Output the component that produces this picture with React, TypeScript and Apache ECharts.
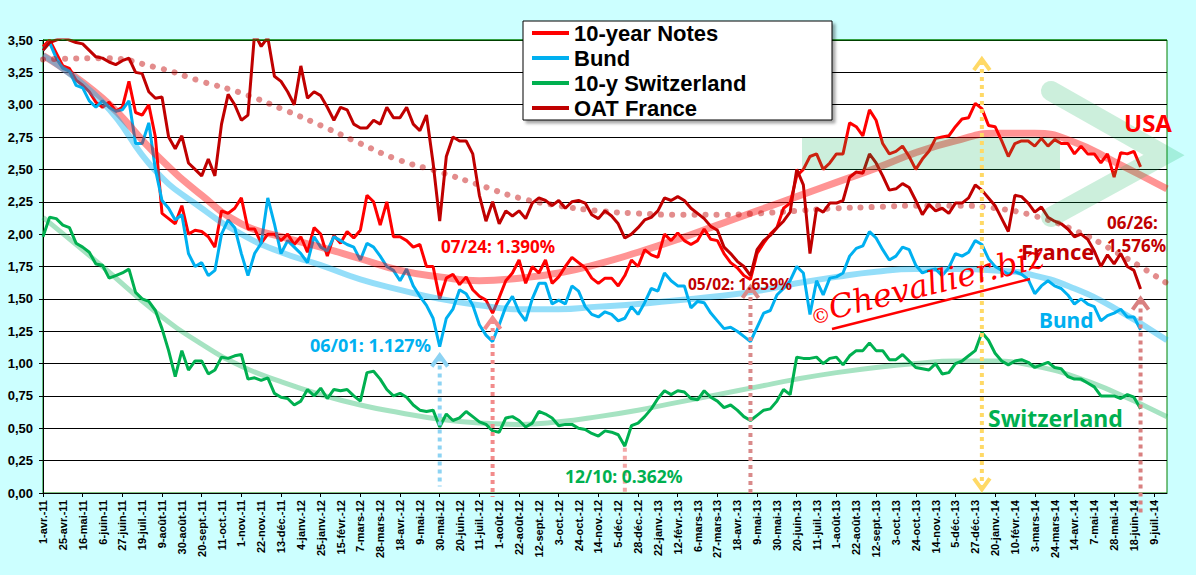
import { useEffect, useRef } from 'react'
import * as echarts from 'echarts'

// x-axis tick labels, one every 15 business days (3 weekly points)
const dateLabels = [
  '1-avr.-11', '25-avr.-11', '16-mai-11', '6-juin-11', '27-juin-11', '19-juil.-11', '9-août-11',
  '30-août-11', '20-sept.-11', '11-oct.-11', '1-nov.-11', '22-nov.-11', '13-déc.-11', '4-janv.-12',
  '25-janv.-12', '15-févr.-12', '7-mars-12', '28-mars-12', '18-avr.-12', '9-mai-12', '30-mai-12',
  '20-juin-12', '11-juil.-12', '1-août-12', '22-août-12', '12-sept.-12', '3-oct.-12', '24-oct.-12',
  '14-nov.-12', '5-déc.-12', '28-déc.-12', '22-janv.-13', '12-févr.-13', '6-mars-13', '27-mars-13',
  '18-avr.-13', '9-mai-13', '30-mai-13', '20-juin-13', '11-juil.-13', '1-août-13', '22-août-13',
  '12-sept.-13', '3-oct.-13', '24-oct.-13', '14-nov.-13', '5-déc.-13', '27-déc.-13', '20-janv.-14',
  '10-févr.-14', '3-mars-14', '24-mars-14', '14-avr.-14', '7-mai-14', '28-mai-14', '18-juin-14',
  '9-juil.-14',
]

// weekly yields (%)
const usNotes = [
  3.45, 3.5, 3.4, 3.3, 3.28, 3.19, 3.15, 3.1, 3.02, 2.98,
  3.02, 2.95, 2.98, 3.18, 2.94, 2.92, 3.0, 2.75, 2.16, 2.12,
  2.08, 2.22, 2.0, 2.03, 2.02, 1.98, 1.9, 2.18, 2.16, 2.2,
  2.28, 2.04, 2.04, 1.93, 2.0, 2.0, 1.95, 2.0, 1.92, 1.98,
  1.86, 2.05, 2.0, 1.83, 1.99, 1.93, 2.02, 1.97, 2.03, 2.3,
  2.25, 2.07, 2.25, 1.98, 1.98, 1.95, 1.9, 1.92, 1.75, 1.75,
  1.5, 1.66, 1.69, 1.61, 1.67, 1.57, 1.52, 1.49, 1.39, 1.51,
  1.64, 1.7, 1.8, 1.62, 1.75, 1.7, 1.8, 1.62, 1.67, 1.75,
  1.82, 1.78, 1.74, 1.66, 1.62, 1.66, 1.66, 1.6, 1.68, 1.8,
  1.75, 1.88, 1.84, 1.82, 2.0, 1.95, 2.01, 1.95, 1.92, 1.95,
  2.04, 1.96, 1.95, 1.85, 1.78, 1.74, 1.68, 1.65, 1.85, 1.93,
  2.0, 2.05, 2.2, 2.24, 2.45, 2.5, 2.6, 2.62, 2.5, 2.55,
  2.62, 2.62, 2.86, 2.83, 2.76, 2.96, 2.88, 2.7, 2.62, 2.64,
  2.68, 2.6, 2.5, 2.58, 2.64, 2.74, 2.75, 2.76, 2.83, 2.89,
  2.9, 3.01, 2.97, 2.84, 2.83, 2.72, 2.6, 2.7, 2.72, 2.72,
  2.68, 2.74, 2.68, 2.73, 2.7, 2.7, 2.62, 2.68, 2.62, 2.62,
  2.55, 2.62, 2.44, 2.63, 2.62, 2.64, 2.52,
]
const bund = [
  3.42, 3.48, 3.36, 3.28, 3.26, 3.15, 3.13, 3.03, 2.98, 3.03,
  2.98, 2.95, 2.96, 3.03, 2.7, 2.7, 2.86, 2.5, 2.26, 2.2,
  2.11, 2.15, 1.85, 1.75, 1.78, 1.68, 1.72, 2.0, 2.11, 2.05,
  1.85, 1.68, 1.85, 1.93, 2.28, 2.08, 1.85, 1.95, 1.9, 1.85,
  1.78, 1.98, 1.9, 1.87, 1.98, 1.95, 1.92, 1.9, 1.8, 1.93,
  1.9, 1.83, 1.75, 1.72, 1.64, 1.73, 1.6, 1.52, 1.45, 1.35,
  1.13, 1.35, 1.42, 1.57, 1.54, 1.45, 1.3, 1.22, 1.17, 1.3,
  1.44, 1.52, 1.4, 1.33, 1.5, 1.62, 1.62, 1.46, 1.49, 1.46,
  1.6, 1.56, 1.44, 1.38, 1.36, 1.4, 1.38, 1.33, 1.35, 1.44,
  1.38, 1.47, 1.58, 1.56, 1.7, 1.64, 1.6, 1.6, 1.43, 1.48,
  1.47, 1.39, 1.33, 1.27, 1.28, 1.25, 1.21, 1.17, 1.28, 1.39,
  1.41, 1.53, 1.58, 1.64, 1.75, 1.7, 1.38, 1.64, 1.53, 1.66,
  1.67, 1.7, 1.83, 1.89, 1.91, 2.02, 1.97, 1.88, 1.8, 1.83,
  1.9, 1.88, 1.76, 1.7, 1.72, 1.73, 1.68, 1.74, 1.85, 1.83,
  1.86, 1.95, 1.92, 1.81, 1.75, 1.72, 1.69, 1.71, 1.69, 1.65,
  1.54, 1.6, 1.64, 1.6, 1.58, 1.53, 1.46, 1.5, 1.46, 1.44,
  1.33, 1.37, 1.39, 1.42, 1.36, 1.36, 1.26,
]
const switzerland = [
  1.98, 2.13, 2.12, 2.07, 2.05, 1.93, 1.9, 1.86, 1.77, 1.76,
  1.66, 1.68, 1.7, 1.73, 1.55, 1.5, 1.48, 1.41, 1.27, 1.1,
  0.9, 1.1, 0.95, 1.02, 1.02, 0.92, 0.95, 1.05, 1.04, 1.06,
  1.07, 0.88, 0.89, 0.87, 0.89, 0.77, 0.74, 0.73, 0.68, 0.71,
  0.8, 0.75, 0.81, 0.73, 0.8, 0.79, 0.8, 0.75, 0.71, 0.93,
  0.94, 0.88, 0.8, 0.75, 0.77, 0.74, 0.68, 0.64, 0.63, 0.64,
  0.51, 0.61, 0.56, 0.58, 0.63, 0.59, 0.55, 0.53, 0.48, 0.47,
  0.58, 0.59, 0.56, 0.51, 0.54, 0.63, 0.61, 0.58, 0.52, 0.53,
  0.53, 0.5, 0.49, 0.46, 0.44, 0.48, 0.47, 0.45, 0.362, 0.52,
  0.54, 0.59, 0.65, 0.73, 0.79, 0.76, 0.79, 0.78, 0.73, 0.72,
  0.79, 0.74, 0.71, 0.66, 0.68, 0.64, 0.59, 0.56, 0.6, 0.64,
  0.65, 0.71, 0.8, 0.76, 1.05, 1.04, 1.04, 1.05, 1.0, 1.04,
  1.05, 0.99, 1.06, 1.1, 1.1, 1.16, 1.1, 1.1, 1.03, 1.03,
  1.07, 1.02, 0.97, 0.96, 0.95, 1.0, 0.92, 0.93, 1.0, 1.02,
  1.06, 1.1, 1.24, 1.18, 1.08, 1.02, 0.99, 1.02, 1.03, 1.01,
  0.97, 0.99, 1.01, 0.97, 0.96, 0.9, 0.88, 0.88, 0.85, 0.82,
  0.75, 0.75, 0.75, 0.73, 0.76, 0.74, 0.65,
]
const oatFrance = [
  3.42, 3.48, 3.5, 3.52, 3.5, 3.48, 3.47, 3.42, 3.37, 3.36,
  3.33, 3.31, 3.34, 3.36, 3.25, 3.24, 3.1, 3.05, 3.06, 2.75,
  2.66, 2.76, 2.55, 2.5, 2.45, 2.58, 2.45, 2.85, 3.08, 3.0,
  2.88, 2.92, 3.55, 3.45, 3.52, 3.22, 3.18, 3.1, 3.0, 3.3,
  3.05, 3.1, 3.07, 2.98, 2.88, 2.98, 2.96, 2.85, 2.82, 2.82,
  2.88, 2.85, 2.98, 2.9, 2.9, 2.98, 2.85, 2.8, 2.92, 2.55,
  2.1, 2.6, 2.75, 2.72, 2.72, 2.62, 2.3, 2.1, 2.25, 2.08,
  2.18, 2.14, 2.18, 2.12, 2.24, 2.28, 2.26, 2.22, 2.26, 2.2,
  2.25, 2.26, 2.24, 2.15, 2.12, 2.18, 2.14, 2.08, 1.97, 2.0,
  2.05, 2.11, 2.13, 2.18, 2.28, 2.26, 2.29, 2.26, 2.2, 2.16,
  2.12, 2.06, 2.03, 1.9, 1.85, 1.79, 1.75, 1.68, 1.88, 1.95,
  1.99, 2.05, 2.1, 2.17, 2.5, 2.38, 1.85, 2.2, 2.17, 2.24,
  2.24, 2.26, 2.44, 2.48, 2.47, 2.62, 2.55, 2.45, 2.34, 2.35,
  2.39, 2.36, 2.26, 2.15, 2.23, 2.18, 2.2, 2.16, 2.24, 2.24,
  2.28, 2.38, 2.34, 2.28, 2.22, 2.12, 2.02, 2.3, 2.29, 2.24,
  2.17, 2.21, 2.13, 2.1, 2.08, 2.04, 1.98, 2.0, 1.96, 1.87,
  1.75, 1.84, 1.77, 1.85, 1.75, 1.72, 1.576,
]

// trend curves, sampled at these week indexes
const trendWeeks = [0, 9, 17, 24, 30, 36, 42, 48, 54, 60, 66, 72, 78, 84, 90, 96, 102, 108, 114, 120, 126, 132, 138, 144, 150, 156, 162, 170]
const usTrend = [3.38, 3.05, 2.62, 2.3, 2.08, 1.98, 1.9, 1.81, 1.72, 1.67, 1.64, 1.66, 1.7, 1.77, 1.86, 1.96, 2.07, 2.18, 2.29, 2.4, 2.51, 2.63, 2.72, 2.78, 2.78, 2.71, 2.56, 2.35]
const bundTrend = [3.38, 3.02, 2.49, 2.2, 2.0, 1.86, 1.76, 1.65, 1.57, 1.5, 1.45, 1.42, 1.42, 1.44, 1.46, 1.49, 1.52, 1.56, 1.62, 1.67, 1.71, 1.73, 1.73, 1.72, 1.68, 1.58, 1.43, 1.18]
const swissTrend = [2.13, 1.75, 1.4, 1.15, 0.98, 0.86, 0.76, 0.68, 0.62, 0.57, 0.54, 0.53, 0.55, 0.59, 0.64, 0.7, 0.76, 0.82, 0.88, 0.93, 0.97, 1.0, 1.02, 1.02, 0.98, 0.9, 0.78, 0.59]
const oatTrend = [3.35, 3.36, 3.29, 3.18, 3.09, 2.97, 2.84, 2.7, 2.57, 2.48, 2.38, 2.28, 2.22, 2.18, 2.16, 2.15, 2.15, 2.16, 2.18, 2.2, 2.21, 2.22, 2.22, 2.2, 2.14, 2.03, 1.87, 1.62]

// dotted arrows: week index, top and bottom value
const arrows = [
  { week: 60, top: 1.07, bottom: 0.05, color: '#8DD3F3', up: true, down: false },
  { week: 68, top: 1.36, bottom: -0.03, color: '#F28B8B', up: true, down: false },
  { week: 88, top: 0.35, bottom: 0, color: '#F4A6A6', up: false, down: false },
  { week: 107, top: 1.6, bottom: 0, color: '#D98A8A', up: true, down: false },
  { week: 142, top: 3.36, bottom: 0.02, color: '#FFD966', up: true, down: true },
  { week: 166, top: 1.51, bottom: -0.16, color: '#D98080', up: true, down: false },
]

const categories: string[] = []
dateLabels.forEach((l) => categories.push(l, '', ''))

const pairs = (vals: number[]) => vals.map((v, i) => [trendWeeks[i], v])

const annFont = '"Noto Sans", "DejaVu Sans", sans-serif'

export default function App() {
  const chartRef = useRef<HTMLDivElement>(null)

  useEffect(() => {
    if (!chartRef.current) return
    const chart = echarts.init(chartRef.current, null, { renderer: 'svg' })

    const line = (name: string, data: number[], color: string) => ({
      name,
      type: 'line',
      data,
      color,
      symbol: 'none',
      lineStyle: { color, width: 3 },
      z: 3,
    })
    const trend = (name: string, vals: number[], lineStyle: any) => ({
      name,
      type: 'line',
      data: pairs(vals),
      smooth: 0.5,
      symbol: 'none',
      lineStyle,
      z: 4,
    })

    chart.setOption({
      animation: false,
      backgroundColor: '#CCFFFF',
      textStyle: { fontFamily: '"Liberation Sans", Arial, sans-serif' },
      grid: {
        left: 43,
        right: 29,
        top: 40,
        bottom: 82,
        show: true,
        backgroundColor: '#ffffff',
        borderColor: '#008000',
        borderWidth: 1,
      },
      legend: {
        data: ['10-year Notes', 'Bund', '10-y Switzerland', 'OAT France'],
        orient: 'vertical',
        left: 532,
        top: 22,
        padding: 0,
        itemGap: 3,
        itemWidth: 37,
        itemHeight: 4,
        icon: 'rect',
        z: 70,
        textStyle: {
          fontSize: 22,
          lineHeight: 22,
          fontWeight: 'bold',
          color: '#000',
          fontFamily: '"Liberation Sans", Arial, sans-serif',
        },
      },
      xAxis: {
        type: 'category',
        data: categories,
        boundaryGap: false,
        axisLine: { lineStyle: { color: '#000', width: 1 } },
        axisTick: {
          show: true,
          interval: (i: number) => i % 6 === 0,
          length: 4,
          lineStyle: { color: '#000' },
        },
        axisLabel: {
          interval: (i: number) => i % 3 === 0,
          rotate: 90,
          margin: 7,
          fontSize: 11,
          fontWeight: 'bold',
          color: '#000',
        },
        splitLine: { show: false },
      },
      yAxis: {
        type: 'value',
        min: 0,
        max: 3.5,
        interval: 0.25,
        axisLine: { show: true, lineStyle: { color: '#000', width: 1 } },
        axisTick: { show: true, length: 4, lineStyle: { color: '#000' } },
        axisLabel: {
          margin: 10,
          fontSize: 13,
          fontWeight: 'bold',
          color: '#000',
          formatter: (v: number) => v.toFixed(2).replace('.', ','),
        },
        splitLine: { lineStyle: { color: '#000', width: 1 } },
      },
      series: [
        line('10-year Notes', usNotes, '#FF0000'),
        line('Bund', bund, '#00B0F0'),
        line('10-y Switzerland', switzerland, '#00B050'),
        line('OAT France', oatFrance, '#C00000'),
        trend('usTrend', usTrend, { color: 'rgba(255,0,0,0.42)', width: 7 }),
        trend('bundTrend', bundTrend, { color: 'rgba(0,176,240,0.42)', width: 6 }),
        trend('swissTrend', swissTrend, { color: 'rgba(0,176,80,0.35)', width: 5 }),
        trend('oatTrend', oatTrend, {
          color: 'rgba(192,0,0,0.45)',
          width: 6,
          type: [0.1, 11],
          cap: 'round',
        }),
      ],
    })

    const toPx = (w: number, v: number) =>
      chart.convertToPixel({ gridIndex: 0 }, [w, v]) as number[]

    const elements: any[] = []

    // green top border over the 3,50 gridline
    const [gx0, gTop] = toPx(0, 3.5)
    const [gx1] = toPx(170, 3.5)
    elements.push({
      type: 'line',
      shape: { x1: gx0, y1: gTop, x2: gx1, y2: gTop },
      style: { stroke: '#008000', lineWidth: 1 },
      z: 5,
    })

    arrows.forEach((a) => {
      const [x, yTop] = toPx(a.week, a.top)
      const [, yBot] = toPx(a.week, a.bottom)
      elements.push({
        type: 'line',
        shape: { x1: x, y1: yTop + (a.up ? 3 : 0), x2: x, y2: yBot - (a.down ? 3 : 0) },
        style: { stroke: a.color, lineWidth: 4, lineDash: [4, 4] },
        z: 50,
      })
      if (a.up) {
        elements.push({
          type: 'polyline',
          shape: { points: [[x - 8, yTop + 12], [x, yTop + 1], [x + 8, yTop + 12]] },
          style: { stroke: a.color, lineWidth: 4, fill: 'none' },
          z: 50,
        })
      }
      if (a.down) {
        elements.push({
          type: 'polyline',
          shape: { points: [[x - 8, yBot - 12], [x, yBot - 1], [x + 8, yBot - 12]] },
          style: { stroke: a.color, lineWidth: 4, fill: 'none' },
          z: 50,
        })
      }
    })

    const label = (text: string, x: number, y: number, fill: string, size: number) => ({
      type: 'text',
      x,
      y,
      z: 55,
      style: {
        text,
        fill,
        fontSize: size,
        fontWeight: 'bold',
        fontFamily: annFont,
        textAlign: 'left',
        textVerticalAlign: 'middle',
        align: 'left',
        verticalAlign: 'middle',
      },
    })

    elements.push(
      // green "USA" arrow
      {
        type: 'rect',
        shape: { x: 802, y: 138, width: 258, height: 32 },
        style: { fill: 'rgba(0,176,80,0.2)' },
        z: 45,
      },
      {
        type: 'polyline',
        shape: { points: [[1051, 91], [1164, 155], [1051, 217]] },
        style: {
          stroke: 'rgba(0,176,80,0.2)',
          lineWidth: 20,
          lineCap: 'round',
          lineJoin: 'miter',
          fill: 'none',
        },
        z: 45,
      },
      label('07/24: 1.390%', 441, 246, '#FF0000', 17),
      label('06/01: 1.127%', 310, 345, '#00B0F0', 18),
      label('12/10: 0.362%', 565, 476, '#00B050', 17.5),
      label('05/02: 1.659%', 688, 284, '#C00000', 15.5),
      label('06/26:', 1107, 222, '#C00000', 17),
      label('1.576%', 1107, 245, '#C00000', 17),
      label('USA', 1124, 122, '#FF0000', 24),
      label('France', 1021, 251, '#C00000', 22),
      label('Bund', 1039, 320, '#00B0F0', 21),
      label('Switzerland', 988, 418, '#00B050', 23),
      // watermark
      {
        type: 'text',
        x: 811,
        y: 318,
        rotation: 0.22,
        z: 52,
        style: {
          text: '©',
          fill: '#FF0000',
          fontSize: 20,
          fontFamily: '"DejaVu Serif", serif',
          textVerticalAlign: 'middle',
          verticalAlign: 'middle',
        },
      },
      {
        type: 'text',
        x: 833,
        y: 324,
        rotation: 0.24,
        z: 52,
        style: {
          text: 'Chevallier.biz',
          fill: '#FF0000',
          fontSize: 32,
          fontStyle: 'italic',
          fontFamily: '"DejaVu Serif", serif',
          textVerticalAlign: 'bottom',
          verticalAlign: 'bottom',
        },
      },
      {
        type: 'line',
        shape: { x1: 832, y1: 329, x2: 1030, y2: 279 },
        style: { stroke: '#FF0000', lineWidth: 2.5 },
        z: 52,
      },
      // legend frame
      {
        type: 'rect',
        shape: { x: 523, y: 21, width: 309, height: 99 },
        style: {
          fill: '#ffffff',
          stroke: '#000000',
          lineWidth: 1,
          shadowBlur: 3,
          shadowOffsetX: 3,
          shadowOffsetY: 3,
          shadowColor: 'rgba(0,0,0,0.35)',
        },
        z: 60,
      }
    )

    chart.setOption({ graphic: elements })

    return () => {
      chart.dispose()
    }
  }, [])

  return (
    <div
      ref={chartRef}
      style={{ position: 'fixed', left: 0, top: 0, width: 1196, height: 575 }}
    />
  )
}
